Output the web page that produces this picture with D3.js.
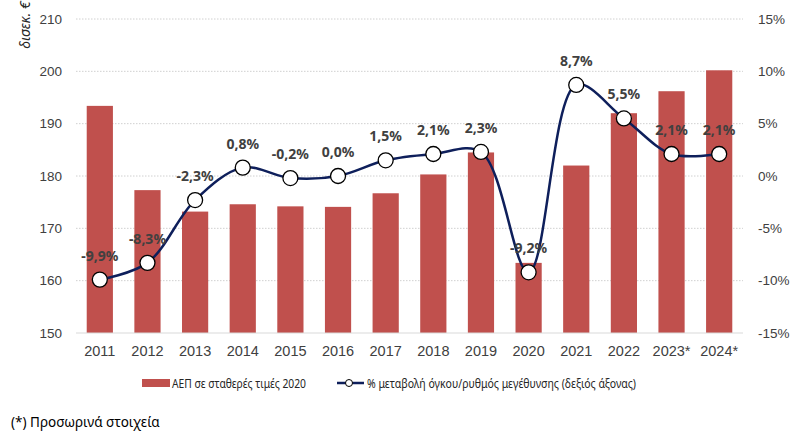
<!DOCTYPE html>
<html>
<head>
<meta charset="utf-8">
<script src="https://cdn.jsdelivr.net/npm/d3@7"></script>
<style>
  body { margin: 0; background: #fff; }
  svg { font-family: "Noto Sans", "Open Sans", sans-serif; }
  .tick text { fill: #404040; }
  .pct-label { font-weight: bold; fill: #404040; }
</style>
</head>
<body>
<svg id="chart" width="802" height="435"></svg>
<script>
const years = ['2011', '2012', '2013', '2014', '2015', '2016', '2017', '2018', '2019', '2020', '2021', '2022', '2023*', '2024*'];
const gdp = [193.4, 177.3, 173.2, 174.6, 174.2, 174.1, 176.7, 180.3, 184.5, 163.4, 182.0, 192.0, 196.2, 200.2];
const growth = [-9.9, -8.3, -2.3, 0.8, -0.2, 0.0, 1.5, 2.1, 2.3, -9.2, 8.7, 5.5, 2.1, 2.1];
const leftTicks = [150, 160, 170, 180, 190, 200, 210];
const rightTicks = [-15, -10, -5, 0, 5, 10, 15];

const svg = d3.select('#chart');
const margin = { left: 76, right: 60, top: 19, bottom: 102 };
const W = 802, H = 435;

const x = d3.scaleBand()
  .domain(years)
  .range([margin.left, W - margin.right + 1])
  .paddingInner(0.45)
  .paddingOuter(0.225);
const yL = d3.scaleLinear().domain([150, 210]).range([H - margin.bottom, margin.top]);
const yR = d3.scaleLinear().domain([-15, 15]).range([H - margin.bottom, margin.top]);

const fmt = v => (v < 0 ? '-' : '') + Math.abs(v).toFixed(1).replace('.', ',') + '%';

// gridlines
svg.append('g')
  .selectAll('line')
  .data(leftTicks.slice(1))
  .join('line')
    .attr('x1', margin.left).attr('x2', W - margin.right + 1)
    .attr('y1', d => yL(d)).attr('y2', d => yL(d))
    .attr('stroke', '#d0d0d0')
    .attr('stroke-dasharray', '1.5,1.5');

// bars
svg.append('g')
  .selectAll('rect')
  .data(years.map((y, i) => ({ year: y, value: gdp[i] })))
  .join('rect')
    .attr('x', d => x(d.year))
    .attr('width', x.bandwidth())
    .attr('y', d => yL(d.value))
    .attr('height', d => yL(150) - yL(d.value))
    .attr('fill', '#c0504d');

// base line
svg.append('line')
  .attr('x1', margin.left).attr('x2', W - margin.right + 1)
  .attr('y1', yL(150)).attr('y2', yL(150))
  .attr('stroke', '#d9d9d9');

// left axis
const axL = svg.append('g')
  .attr('transform', `translate(${margin.left - 10},0)`)
  .call(d3.axisLeft(yL).tickValues(leftTicks).tickSize(0).tickPadding(4));
axL.select('.domain').remove();
axL.selectAll('text').attr('font-size', 13.5);

// right axis
const axR = svg.append('g')
  .attr('transform', `translate(${W - margin.right + 12},0)`)
  .call(d3.axisRight(yR).tickValues(rightTicks).tickSize(0).tickPadding(4).tickFormat(d => d + '%'));
axR.select('.domain').remove();
axR.selectAll('text').attr('font-size', 13.5);

// x axis
const axX = svg.append('g')
  .attr('transform', `translate(0,${yL(150) + 7})`)
  .call(d3.axisBottom(x).tickSize(0).tickPadding(6));
axX.select('.domain').remove();
axX.selectAll('text').attr('font-size', 14.5);

// y title
svg.append('text')
  .attr('transform', `translate(30,25) rotate(-90)`)
  .attr('text-anchor', 'middle')
  .attr('font-size', 14)
  .attr('font-style', 'italic')
  .attr('fill', '#262626')
  .text('δισεκ. €');

// growth line
const pts = years.map((y, i) => ({ year: y, value: growth[i] }));
const line = d3.line()
  .x(d => x(d.year) + x.bandwidth() / 2)
  .y(d => yR(d.value))
  .curve(d3.curveCatmullRom.alpha(0.5));
svg.append('path')
  .datum(pts)
  .attr('d', line)
  .attr('fill', 'none')
  .attr('stroke', '#0e1f5b')
  .attr('stroke-width', 2.5);

svg.append('g')
  .selectAll('circle')
  .data(pts)
  .join('circle')
    .attr('cx', d => x(d.year) + x.bandwidth() / 2)
    .attr('cy', d => yR(d.value))
    .attr('r', 7.5)
    .attr('fill', '#fff')
    .attr('stroke', '#000')
    .attr('stroke-width', 1.3);

svg.append('g')
  .selectAll('text')
  .data(pts)
  .join('text')
    .attr('class', 'pct-label')
    .attr('x', d => x(d.year) + x.bandwidth() / 2)
    .attr('y', d => yR(d.value) - 19)
    .attr('text-anchor', 'middle')
    .attr('font-size', 14)
    .text(d => fmt(d.value));

// legend
const lg = svg.append('g').attr('transform', `translate(0,383)`);
lg.append('rect').attr('x', 142).attr('y', -4).attr('width', 28).attr('height', 8).attr('fill', '#c0504d');
lg.append('text').attr('x', 172).attr('y', 4.5).attr('font-size', 12).attr('fill', '#262626')
  .attr('textLength', 134).attr('lengthAdjust', 'spacingAndGlyphs')
  .text('ΑΕΠ σε σταθερές τιμές 2020');
lg.append('line').attr('x1', 337).attr('x2', 364).attr('y1', 0).attr('y2', 0)
  .attr('stroke', '#0e1f5b').attr('stroke-width', 2.5);
lg.append('circle').attr('cx', 349).attr('cy', 0).attr('r', 3.5)
  .attr('fill', '#fff').attr('stroke', '#000').attr('stroke-width', 1);
lg.append('text').attr('x', 367).attr('y', 4.5).attr('font-size', 12).attr('fill', '#262626')
  .attr('textLength', 269).attr('lengthAdjust', 'spacingAndGlyphs')
  .text('% μεταβολή όγκου/ρυθμός μεγέθυνσης (δεξιός άξονας)');

// footnote
svg.append('text')
  .attr('x', 11).attr('y', 427)
  .attr('font-size', 13.5)
  .attr('fill', '#000')
  .text('(*) Προσωρινά στοιχεία');
</script>
</body>
</html>
